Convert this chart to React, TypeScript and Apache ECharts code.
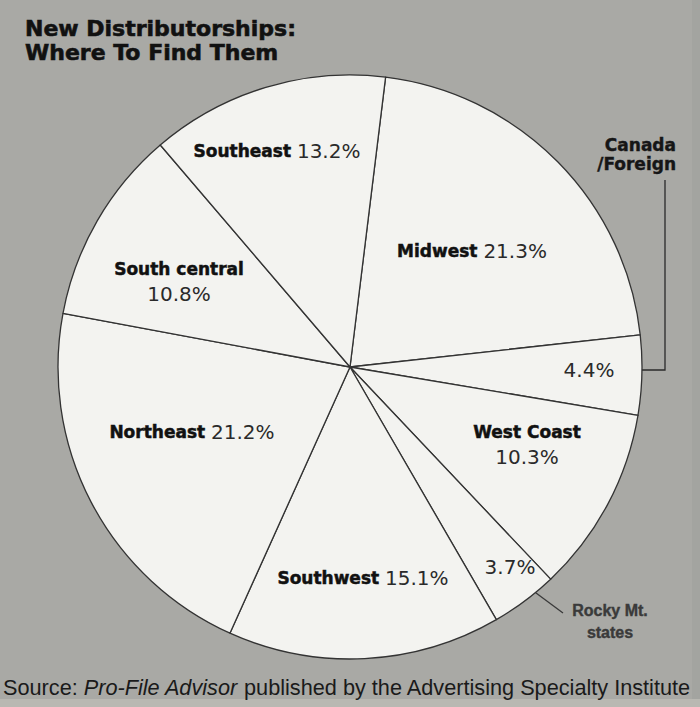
import React, { useEffect, useRef } from "react";
import * as echarts from "echarts";

const regions = [
  "Midwest",
  "Canada/Foreign",
  "West Coast",
  "Rocky Mt. states",
  "Southwest",
  "Northeast",
  "South central",
  "Southeast",
];
const shares = [21.3, 4.4, 10.3, 3.7, 15.1, 21.2, 10.8, 13.2];
const insideNames = ["Midwest", "", "West Coast", "", "Southwest", "Northeast", "South central", "Southeast"];
const twoLine = [false, false, true, false, false, false, true, false];
const labelCenters = [
  [472, 251],
  [589, 370],
  [527, 444],
  [510, 567],
  [363, 578],
  [192, 432],
  [179, 281],
  [277, 151],
];

const BOLD = '"DejaVu Sans", "Liberation Sans", sans-serif';

export default function App() {
  const ref = useRef<HTMLDivElement>(null);

  useEffect(() => {
    document.body.style.margin = "0";
    const chart = echarts.init(ref.current!, undefined, { renderer: "svg" });
    chart.setOption({
      animation: false,
      backgroundColor: "#a9a9a5",
      title: [
        {
          text: "New Distributorships:\nWhere To Find Them",
          left: 25,
          top: 16,
          padding: 0,
          textStyle: {
            fontFamily: BOLD,
            fontWeight: "bold",
            fontSize: 22,
            lineHeight: 24,
            color: "#111",
            textBorderColor: "#111",
            textBorderWidth: 0.6,
          },
        },
        {
          text: "{a|Source: }{b|Pro-File Advisor}{a| published by the Advertising Specialty Institute}",
          left: 3,
          top: 676,
          padding: 0,
          textStyle: {
            rich: {
              a: { fontFamily: '"Liberation Sans", sans-serif', fontWeight: "normal", fontSize: 21.7, color: "#1a1a1a" },
              b: {
                fontFamily: '"Liberation Sans", sans-serif',
                fontWeight: "normal",
                fontSize: 21.7,
                fontStyle: "italic",
                color: "#1a1a1a",
              },
            },
          },
        },
      ],
      graphic: [
        { type: "rect", shape: { x: 692, y: 0, width: 8, height: 707 }, style: { fill: "#a3a4a0" }, silent: true },
        { type: "rect", shape: { x: 0, y: 699, width: 700, height: 8 }, style: { fill: "#b9b8b2" }, silent: true },
        {
          type: "polyline",
          shape: { points: [[665, 180], [665, 370], [632, 370]] },
          style: { stroke: "#2a2a2a", lineWidth: 1.3, fill: "none" },
          silent: true,
        },
        {
          type: "line",
          shape: { x1: 532, y1: 590, x2: 563, y2: 613 },
          style: { stroke: "#3a3a3a", lineWidth: 1.3 },
          silent: true,
        },
        {
          type: "text",
          style: {
            text: "Canada\n/Foreign",
            x: 676,
            y: 154,
            align: "right",
            verticalAlign: "middle",
            font: 'bold 17px "DejaVu Sans"',
            lineHeight: 19,
            fill: "#161616",
            stroke: "#161616",
            lineWidth: 0.4,
          },
          silent: true,
        },
        {
          type: "text",
          style: {
            text: "Rocky Mt.\nstates",
            x: 610,
            y: 621,
            align: "center",
            verticalAlign: "middle",
            font: 'bold 16px "Liberation Sans"',
            lineHeight: 22,
            fill: "#3a3a3a",
            stroke: "#3a3a3a",
            lineWidth: 0.4,
          },
          silent: true,
        },
      ],
      series: [
        {
          type: "pie",
          center: [350, 367],
          radius: 292,
          startAngle: 83,
          clockwise: true,
          emphasis: { disabled: true },
          itemStyle: { color: "#f3f3f0", borderColor: "#333", borderWidth: 1.3 },
          labelLine: { show: false },
          label: {
            show: true,
            position: "inside",
            formatter: (p: any) => {
              const i = p.dataIndex;
              const name = insideNames[i];
              const pct = `{p|${shares[i]}%}`;
              if (!name) return pct;
              return twoLine[i] ? `{n|${name}}\n${pct}` : `{n|${name} }${pct}`;
            },
            rich: {
              n: {
                fontFamily: BOLD,
                fontWeight: "bold",
                fontSize: 17,
                color: "#111",
                lineHeight: 25,
                textBorderColor: "#111",
                textBorderWidth: 0.5,
              },
              p: { fontFamily: '"DejaVu Sans", sans-serif', fontSize: 20, color: "#2a2a2a", lineHeight: 25 },
            },
          },
          labelLayout: (params: any) => {
            const c = labelCenters[params.dataIndex];
            return { x: c[0], y: c[1], align: "center", verticalAlign: "middle" };
          },
          data: regions.map((r, i) => ({ name: r, value: shares[i] })),
        },
      ],
    });
    return () => chart.dispose();
  }, []);

  return <div ref={ref} style={{ width: 700, height: 707 }} />;
}
